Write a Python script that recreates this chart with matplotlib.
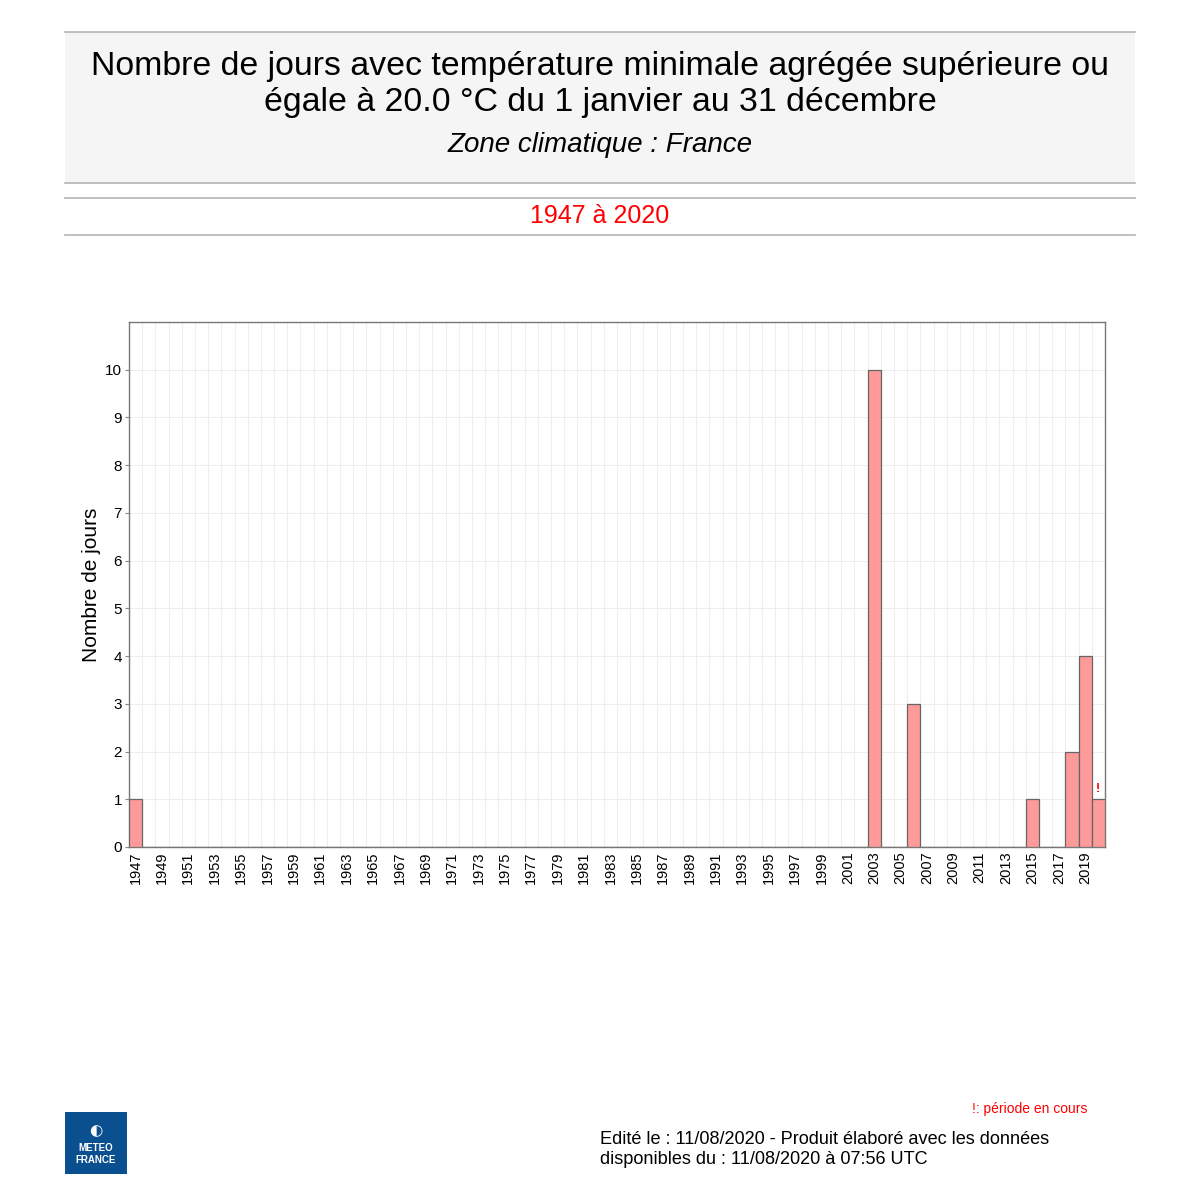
import matplotlib
matplotlib.use("Agg")
import matplotlib.pyplot as plt
from matplotlib.patches import Rectangle

plt.rcParams['font.family'] = ['Liberation Sans', 'DejaVu Sans']

# data
years = list(range(1947, 2021))
hot_years = [1947, 2003, 2006, 2015, 2018, 2019, 2020]
hot_days = [1, 10, 3, 1, 2, 4, 1]
values = [hot_days[hot_years.index(y)] if y in hot_years else 0 for y in years]
tick_years = list(range(1947, 2021, 2))
current_year = 2020

fig = plt.figure(figsize=(12, 12), dpi=100)

# header box
fig.patches.append(Rectangle((65/1200, 1-183/1200), 1070/1200, 151/1200,
                             transform=fig.transFigure, facecolor='#f5f5f5',
                             edgecolor='none', zorder=0))
for yy in [32, 183, 198, 235]:
    fig.add_artist(plt.Line2D([65/1200, 1135/1200], [1-yy/1200, 1-yy/1200],
                              transform=fig.transFigure, color='#b4b4b4', lw=1.2))

fig.text(0.5, 1-67/1200, "Nombre de jours avec température minimale agrégée supérieure ou",
         ha='center', va='center', fontsize=24.4)
fig.text(0.5, 1-103/1200, "égale à 20.0 °C du 1 janvier au 31 décembre",
         ha='center', va='center', fontsize=24.4)
fig.text(0.5, 1-145/1200, "Zone climatique : France", ha='center', va='center',
         fontsize=20, style='italic')
fig.text(0.5, 1-216/1200, "1947 à 2020", ha='center', va='center',
         fontsize=18, color='red')

ax = fig.add_axes([129/1200, 1-847/1200, 976/1200, 525/1200])
ax.bar(years, values, width=1.0, color='#ff9a9a', edgecolor='#666666', lw=0.9, zorder=3)
ax.set_xlim(1946.5, 2020.5)
ax.set_ylim(0, 11)
ax.set_yticks(range(0, 11))
ax.set_xticks(tick_years)
ax.set_xticklabels([str(y) for y in tick_years], rotation=90, fontsize=10.5)
ax.tick_params(axis='y', labelsize=11, length=3, pad=2, color='#888888')
ax.tick_params(axis='x', length=0, pad=3)
ax.set_xticks([y + 0.5 for y in years[:-1]], minor=True)
ax.tick_params(axis='x', which='minor', length=0)
ax.grid(True, axis='y', which='major', color='#eeeeee', lw=0.8, zorder=0)
ax.grid(True, axis='x', which='minor', color='#eeeeee', lw=0.8, zorder=0)
ax.set_ylabel("Nombre de jours", fontsize=15, labelpad=3)
for s in ax.spines.values():
    s.set_color('#777777')
    s.set_linewidth(1.0)

ax.text(current_year, values[years.index(current_year)] + 0.08, "!", color='red',
        ha='center', va='bottom', fontsize=9, fontweight='bold')

fig.text(1087/1200, 1-1109/1200, "!: période en cours", ha='right', va='center',
         fontsize=10, color='red')
fig.text(600/1200, 1-1140/1200, "Edité le : 11/08/2020 - Produit élaboré avec les données",
         ha='left', va='center', fontsize=13.1)
fig.text(600/1200, 1-1160/1200, "disponibles du : 11/08/2020 à 07:56 UTC",
         ha='left', va='center', fontsize=13.1)

# logo
fig.patches.append(Rectangle((65/1200, 1-1174/1200), 62/1200, 62/1200,
                             transform=fig.transFigure, facecolor='#0a4f8f',
                             edgecolor='none'))
fig.text(96/1200, 1-1131/1200, "◐", ha='center', va='center', fontsize=11,
         color='white', family=['DejaVu Sans'])
fig.text(96/1200, 1-1154/1200, "METEO\nFRANCE", ha='center', va='center',
         fontsize=7, color='white', fontweight='bold', linespacing=1.2)

plt.savefig("out.png", dpi=100)
